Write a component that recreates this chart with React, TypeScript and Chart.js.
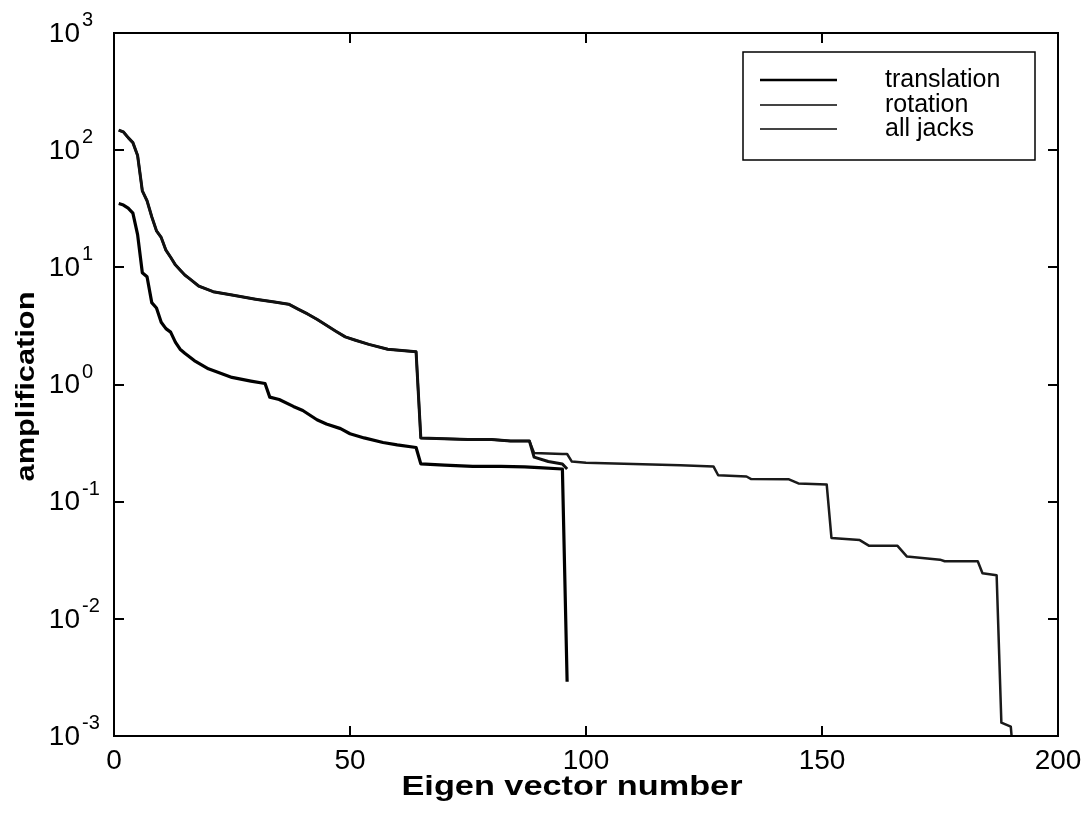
import React, { useEffect, useRef } from "react";
import { Chart, registerables } from "chart.js";

Chart.register(...registerables);

// ---- data ----
const translationN = [1, 2, 3, 4, 5, 6, 7, 8, 9, 10, 11, 12, 13, 14, 15, 17, 20, 25, 29, 32, 33, 35, 38, 40, 43, 45, 48, 50, 53, 57, 60, 64, 65, 70, 76, 82, 87, 90, 95, 96];
const translationV = [35, 34, 32, 29, 19, 9.0, 8.3, 5.0, 4.5, 3.4, 3.0, 2.8, 2.3, 2.0, 1.85, 1.6, 1.36, 1.15, 1.07, 1.02, 0.78, 0.745, 0.65, 0.6, 0.5, 0.46, 0.42, 0.38, 0.35, 0.32, 0.305, 0.29, 0.21, 0.205, 0.2, 0.2, 0.198, 0.195, 0.19, 0.0029];

const rotationN = [1, 2, 3, 4, 5, 6, 7, 8, 9, 10, 11, 12, 13, 14, 15, 16, 18, 21, 25, 30, 34, 37, 39, 41, 43, 45, 47, 49, 51, 54, 58, 61, 64, 65, 70, 75, 80, 84, 88, 89, 92, 95, 96];
const rotationV = [148, 143, 128, 116, 90, 45, 37, 27, 20.5, 18, 14, 12.2, 10.5, 9.5, 8.6, 8.0, 6.9, 6.2, 5.8, 5.35, 5.05, 4.85, 4.4, 4.0, 3.6, 3.2, 2.85, 2.55, 2.4, 2.2, 2.0, 1.95, 1.9, 0.35, 0.345, 0.34, 0.34, 0.33, 0.33, 0.24, 0.22, 0.21, 0.19];

const allJacksN = [1, 2, 3, 4, 5, 6, 7, 8, 9, 10, 11, 12, 13, 14, 15, 16, 18, 21, 25, 30, 34, 37, 39, 41, 43, 45, 47, 49, 51, 54, 58, 61, 64, 65, 70, 75, 80, 84, 88, 89, 95, 96, 97, 100, 110, 120, 127, 128, 134, 135, 143, 145, 151, 152, 158, 160, 166, 168, 175, 176, 183, 184, 187, 188, 190, 191];
const allJacksV = [148, 143, 128, 116, 90, 45, 37, 27, 20.5, 18, 14, 12.2, 10.5, 9.5, 8.6, 8.0, 6.9, 6.2, 5.8, 5.35, 5.05, 4.85, 4.4, 4.0, 3.6, 3.2, 2.85, 2.55, 2.4, 2.2, 2.0, 1.95, 1.9, 0.35, 0.345, 0.34, 0.34, 0.33, 0.33, 0.26, 0.255, 0.255, 0.22, 0.215, 0.21, 0.205, 0.2, 0.168, 0.164, 0.156, 0.155, 0.143, 0.14, 0.049, 0.047, 0.042, 0.042, 0.034, 0.032, 0.031, 0.031, 0.0245, 0.0235, 0.0013, 0.0012, 0.0004];

const seriesLabels = ["translation", "rotation", "all jacks"];
const xTickValues = [0, 50, 100, 150, 200];
const yTickExponents = [-3, -2, -1, 0, 1, 2, 3];
const xTitle = "Eigen vector number";
const yTitle = "amplification";

const FONT = '"Liberation Sans", Arial, Helvetica, sans-serif';

const toPoints = (n: number[], v: number[]) => n.map((x, i) => ({ x, y: v[i] }));

const framePlugin = {
  id: "matlabFrame",
  afterDraw(chart: any) {
    const { ctx, chartArea: a, scales } = chart;
    const xs = scales.x;
    const ys = scales.y;
    ctx.save();
    ctx.strokeStyle = "#000";
    ctx.fillStyle = "#000";
    ctx.lineWidth = 2;
    ctx.strokeRect(a.left, a.top, a.right - a.left, a.bottom - a.top);

    // inward ticks
    const tl = 10;
    ctx.beginPath();
    xTickValues.forEach((v) => {
      const px = Math.round(xs.getPixelForValue(v));
      ctx.moveTo(px, a.bottom);
      ctx.lineTo(px, a.bottom - tl);
      ctx.moveTo(px, a.top);
      ctx.lineTo(px, a.top + tl);
    });
    yTickExponents.forEach((e) => {
      const py = Math.round(ys.getPixelForValue(Math.pow(10, e)));
      ctx.moveTo(a.left, py);
      ctx.lineTo(a.left + tl, py);
      ctx.moveTo(a.right, py);
      ctx.lineTo(a.right - tl, py);
    });
    ctx.stroke();

    // x tick labels
    ctx.font = `28px ${FONT}`;
    ctx.textAlign = "center";
    ctx.textBaseline = "middle";
    xTickValues.forEach((v) => {
      ctx.fillText(String(v), xs.getPixelForValue(v), a.bottom + 25);
    });

    // y tick labels: 10 with superscript exponent
    yTickExponents.forEach((e) => {
      const py = ys.getPixelForValue(Math.pow(10, e));
      ctx.font = `28px ${FONT}`;
      ctx.textAlign = "right";
      ctx.textBaseline = "middle";
      ctx.fillText("10", a.left - 34, py + 1);
      ctx.font = `20px ${FONT}`;
      ctx.textAlign = "left";
      ctx.textBaseline = "alphabetic";
      ctx.fillText(String(e), a.left - 32, py - 7);
    });

    // x title
    ctx.save();
    ctx.font = `bold 27px ${FONT}`;
    const wx = ctx.measureText(xTitle).width;
    ctx.translate((a.left + a.right) / 2 - 14, a.bottom + 59);
    ctx.scale(341 / wx, 1);
    ctx.textAlign = "center";
    ctx.textBaseline = "alphabetic";
    ctx.fillText(xTitle, 0, 0);
    ctx.restore();

    // y title
    ctx.save();
    ctx.font = `bold 26px ${FONT}`;
    const wy = ctx.measureText(yTitle).width;
    ctx.translate(a.left - 80, (a.top + a.bottom) / 2 + 2);
    ctx.rotate(-Math.PI / 2);
    ctx.scale(190 / wy, 1);
    ctx.textAlign = "center";
    ctx.textBaseline = "alphabetic";
    ctx.fillText(yTitle, 0, 0);
    ctx.restore();

    // legend box
    const bx = a.right - 315;
    const by = a.top + 19;
    const bw = 292;
    const bh = 108;
    ctx.fillStyle = "#fff";
    ctx.fillRect(bx, by, bw, bh);
    ctx.lineWidth = 1.5;
    ctx.strokeStyle = "#000";
    ctx.strokeRect(bx, by, bw, bh);
    const rowY = [28, 53, 77];
    chart.data.datasets.forEach((ds: any, i: number) => {
      const y = by + rowY[i];
      ctx.beginPath();
      ctx.strokeStyle = i === 0 ? "#000" : "#444";
      ctx.lineWidth = i === 0 ? 2.5 : 2;
      ctx.moveTo(bx + 17, y);
      ctx.lineTo(bx + 94, y);
      ctx.stroke();
      ctx.fillStyle = "#000";
      ctx.font = `25px ${FONT}`;
      ctx.textAlign = "left";
      ctx.textBaseline = "middle";
      ctx.fillText(ds.label, bx + 142, y);
    });
    ctx.restore();
  },
};

export default function App() {
  const canvasRef = useRef<HTMLCanvasElement | null>(null);

  useEffect(() => {
    if (!canvasRef.current) return;
    const chart = new Chart(canvasRef.current, {
      type: "line",
      data: {
        datasets: [
          {
            label: seriesLabels[0],
            data: toPoints(translationN, translationV),
            borderColor: "#000",
            borderWidth: 3.2,
          },
          {
            label: seriesLabels[1],
            data: toPoints(rotationN, rotationV),
            borderColor: "#111",
            borderWidth: 3,
          },
          {
            label: seriesLabels[2],
            data: toPoints(allJacksN, allJacksV),
            borderColor: "#1a1a1a",
            borderWidth: 2.5,
          },
        ],
      },
      options: {
        responsive: false,
        animation: false,
        layout: { padding: { left: 114, top: 33, right: 29, bottom: 78 } },
        elements: {
          point: { radius: 0, hoverRadius: 0 },
          line: { tension: 0, borderJoinStyle: "round", borderCapStyle: "butt", fill: false },
        },
        scales: {
          x: { type: "linear", min: 0, max: 200, display: false },
          y: { type: "logarithmic", min: 1e-3, max: 1e3, display: false },
        },
        plugins: {
          legend: { display: false },
          tooltip: { enabled: false },
          title: { display: false },
        },
        events: [],
      },
      plugins: [framePlugin],
    });
    return () => chart.destroy();
  }, []);

  return (
    <div style={{ position: "fixed", left: 0, top: 0, width: 1087, height: 814, background: "#fff" }}>
      <canvas ref={canvasRef} width={1087} height={814} style={{ display: "block" }} />
    </div>
  );
}
